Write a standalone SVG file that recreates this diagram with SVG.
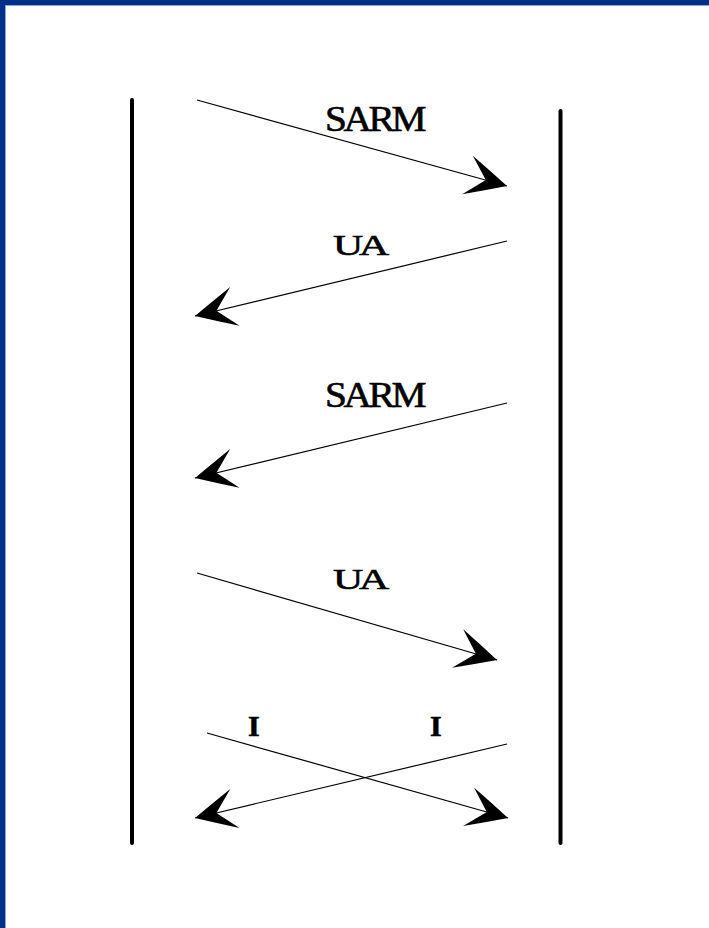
<svg xmlns="http://www.w3.org/2000/svg" width="709" height="928" viewBox="0 0 709 928">
<defs>
<style>
.life{stroke:#000;stroke-width:4;stroke-linecap:round;fill:none}
.msg{stroke:#000;stroke-width:1.2;fill:none;marker-end:url(#ah)}
.lbl{font-family:"Liberation Serif","Times New Roman",serif;font-size:35px;fill:#000;stroke:#000;stroke-width:0.6;letter-spacing:-3px}
.sm{font-size:30px}
</style>
<marker id="ah" markerUnits="userSpaceOnUse" orient="auto" markerWidth="50" markerHeight="50" refX="0" refY="0" viewBox="-45 -25 50 50" overflow="visible">
<path d="M0,0 Q-20,-10 -41,-20 L-22,0 L-41,20 Q-20,10 0,0 Z" fill="#000"/>
</marker>
</defs>
<rect x="0" y="0" width="709" height="928" fill="#fff"/>
<g id="frame">
<rect x="0" y="0" width="709" height="5" fill="#003087"/>
<rect x="0" y="0" width="5" height="928" fill="#003087"/>
<rect x="5" y="5" width="704" height="1" fill="#8ea4dc"/>
<rect x="5" y="5" width="1" height="923" fill="#8ea4dc"/>
</g>
<g id="lifeline-left"><line class="life" x1="132" y1="100" x2="132" y2="843"/></g>
<g id="lifeline-right"><line class="life" x1="560.5" y1="111" x2="560.5" y2="843"/></g>
<g id="connectors">
<line class="msg" x1="197" y1="100" x2="507" y2="186"/>
<line class="msg" x1="507" y1="241" x2="195" y2="316"/>
<line class="msg" x1="507" y1="403" x2="195" y2="478"/>
<line class="msg" x1="197" y1="573" x2="497" y2="660"/>
<line class="msg" x1="207" y1="733" x2="508" y2="818"/>
<line class="msg" x1="507" y1="744" x2="195" y2="818"/>
</g>
<g id="labels">
<text class="lbl" x="325" y="131" textLength="98" lengthAdjust="spacingAndGlyphs">SARM</text>
<text class="lbl sm" x="333" y="255" textLength="52" lengthAdjust="spacingAndGlyphs">UA</text>
<text class="lbl" x="325" y="407" textLength="98" lengthAdjust="spacingAndGlyphs">SARM</text>
<text class="lbl sm" x="333" y="589" textLength="52" lengthAdjust="spacingAndGlyphs">UA</text>
<text class="lbl sm" x="248" y="736" style="font-weight:bold">I</text>
<text class="lbl sm" x="430" y="736" style="font-weight:bold">I</text>
</g>
</svg>
